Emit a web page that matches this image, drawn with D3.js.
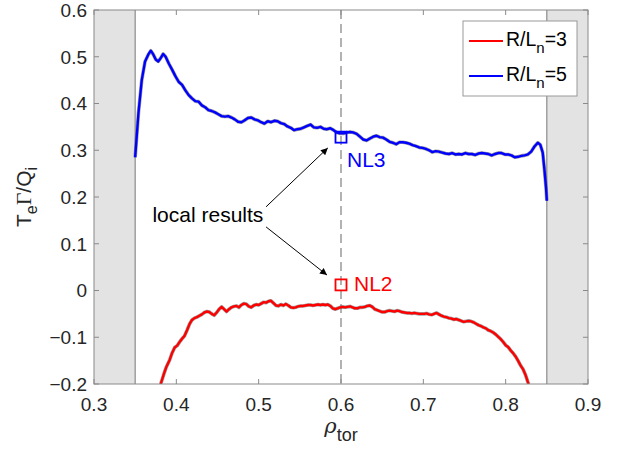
<!DOCTYPE html>
<html><head><meta charset="utf-8">
<script src="https://cdn.jsdelivr.net/npm/d3@7"></script>
<style>body{margin:0;background:#fff}svg{display:block}text{font-family:"Liberation Sans",Arial,sans-serif}</style>
</head><body><svg id="c" width="620" height="453"></svg>
<script>
const xTicks = [0.3,0.4,0.5,0.6,0.7,0.8,0.9];
const yTicks = [-0.2,-0.1,0,0.1,0.2,0.3,0.4,0.5,0.6];
const seriesNames = ["R/L_n=3","R/L_n=5"];
const seriesColors = ["#ff0000","#0000ff"];
const shadedRegions = [[0.3,0.35],[0.85,0.9]];
const refLine = 0.6;
const localPoints = [{name:"NL2", rho:0.6, value:0.012, color:"#ff0000"},{name:"NL3", rho:0.6, value:0.328, color:"#0000ff"}];

const blueRho = [0.350,0.354,0.358,0.362,0.366,0.369,0.372,0.375,0.378,0.381,0.384,0.387,0.391,0.395,0.399,0.403,0.407,0.411,0.415,0.419,0.423,0.427,0.431,0.435,0.439,0.443,0.447,0.451,0.455,0.459,0.463,0.467,0.471,0.475,0.479,0.483,0.487,0.491,0.495,0.499,0.503,0.507,0.511,0.515,0.519,0.523,0.527,0.531,0.535,0.539,0.543,0.547,0.551,0.555,0.559,0.563,0.567,0.571,0.575,0.579,0.583,0.587,0.591,0.595,0.599,0.603,0.607,0.611,0.615,0.619,0.623,0.627,0.631,0.635,0.639,0.643,0.647,0.651,0.655,0.659,0.663,0.667,0.671,0.675,0.679,0.683,0.687,0.691,0.695,0.699,0.703,0.707,0.711,0.715,0.719,0.723,0.727,0.731,0.735,0.739,0.743,0.747,0.751,0.755,0.759,0.763,0.767,0.771,0.775,0.779,0.783,0.787,0.791,0.795,0.799,0.803,0.807,0.811,0.815,0.819,0.823,0.827,0.831,0.835,0.839,0.842,0.845,0.847,0.849,0.850];
const blueVal = [0.285,0.38,0.45,0.49,0.505,0.513,0.505,0.494,0.490,0.497,0.506,0.500,0.485,0.472,0.458,0.446,0.440,0.428,0.418,0.411,0.405,0.404,0.396,0.392,0.386,0.384,0.381,0.377,0.373,0.372,0.373,0.370,0.366,0.361,0.360,0.364,0.369,0.370,0.366,0.364,0.360,0.357,0.362,0.360,0.363,0.362,0.358,0.356,0.351,0.348,0.343,0.345,0.346,0.349,0.352,0.355,0.349,0.348,0.350,0.346,0.345,0.347,0.343,0.338,0.336,0.336,0.338,0.339,0.338,0.335,0.329,0.323,0.321,0.325,0.329,0.331,0.328,0.327,0.323,0.318,0.316,0.313,0.317,0.317,0.316,0.314,0.311,0.309,0.306,0.305,0.303,0.300,0.296,0.298,0.297,0.295,0.293,0.292,0.294,0.291,0.292,0.291,0.294,0.292,0.292,0.290,0.293,0.294,0.293,0.292,0.289,0.292,0.294,0.294,0.291,0.291,0.289,0.285,0.286,0.288,0.289,0.291,0.297,0.308,0.316,0.312,0.295,0.260,0.220,0.192];

const redRho = [0.381,0.385,0.388,0.392,0.395,0.398,0.401,0.404,0.407,0.410,0.413,0.416,0.419,0.422,0.425,0.428,0.431,0.434,0.437,0.440,0.443,0.446,0.449,0.452,0.455,0.458,0.461,0.464,0.467,0.470,0.473,0.476,0.479,0.482,0.485,0.488,0.491,0.494,0.497,0.500,0.503,0.506,0.509,0.512,0.515,0.518,0.521,0.524,0.527,0.530,0.533,0.536,0.539,0.542,0.545,0.548,0.551,0.554,0.557,0.560,0.563,0.566,0.569,0.572,0.575,0.578,0.581,0.584,0.587,0.590,0.593,0.596,0.599,0.602,0.605,0.608,0.611,0.614,0.617,0.620,0.623,0.626,0.629,0.632,0.635,0.638,0.641,0.644,0.647,0.650,0.653,0.656,0.659,0.662,0.665,0.668,0.671,0.674,0.677,0.680,0.683,0.686,0.689,0.692,0.695,0.698,0.701,0.704,0.707,0.710,0.713,0.716,0.719,0.722,0.725,0.728,0.731,0.734,0.737,0.740,0.743,0.746,0.749,0.752,0.755,0.758,0.761,0.764,0.767,0.770,0.773,0.776,0.779,0.782,0.785,0.788,0.791,0.794,0.797,0.800,0.803,0.806,0.809,0.812,0.815,0.818,0.821,0.824,0.827,0.828];
const redVal = [-0.200,-0.178,-0.163,-0.148,-0.133,-0.122,-0.118,-0.110,-0.103,-0.097,-0.085,-0.072,-0.063,-0.059,-0.057,-0.054,-0.051,-0.047,-0.045,-0.046,-0.050,-0.053,-0.047,-0.040,-0.035,-0.040,-0.045,-0.040,-0.036,-0.034,-0.033,-0.036,-0.031,-0.028,-0.029,-0.034,-0.036,-0.032,-0.030,-0.031,-0.028,-0.025,-0.026,-0.023,-0.022,-0.027,-0.032,-0.033,-0.030,-0.032,-0.029,-0.032,-0.036,-0.037,-0.036,-0.034,-0.033,-0.033,-0.032,-0.031,-0.031,-0.032,-0.031,-0.030,-0.031,-0.030,-0.031,-0.030,-0.033,-0.038,-0.040,-0.038,-0.036,-0.035,-0.036,-0.035,-0.034,-0.036,-0.038,-0.038,-0.036,-0.036,-0.035,-0.033,-0.032,-0.035,-0.040,-0.042,-0.044,-0.046,-0.046,-0.044,-0.043,-0.044,-0.045,-0.043,-0.044,-0.046,-0.047,-0.048,-0.048,-0.049,-0.048,-0.049,-0.050,-0.050,-0.050,-0.049,-0.051,-0.052,-0.050,-0.048,-0.051,-0.054,-0.056,-0.057,-0.059,-0.060,-0.062,-0.061,-0.063,-0.065,-0.067,-0.066,-0.065,-0.066,-0.068,-0.071,-0.074,-0.076,-0.079,-0.081,-0.085,-0.087,-0.090,-0.094,-0.099,-0.104,-0.110,-0.117,-0.121,-0.128,-0.134,-0.141,-0.150,-0.160,-0.168,-0.180,-0.196,-0.200];

const annotationText = "local results";
const annotationPos = {rho:0.371, value:0.147};
const arrows = [
  {from:[0.509,0.179], to:[0.584,0.305]},
  {from:[0.509,0.136], to:[0.583,0.033]}
];

const W=620,H=453, m={l:94,t:10,r:32,b:69};
const svg=d3.select("#c");
const x=d3.scaleLinear().domain([0.3,0.9]).range([m.l,W-m.r]);
const y=d3.scaleLinear().domain([-0.2,0.6]).range([H-m.b,m.t]);
const axisCol="#8a8a8a";
const FS=19;

svg.append("defs").html('<clipPath id="clip"><rect x="'+m.l+'" y="'+m.t+'" width="'+(W-m.l-m.r)+'" height="'+(H-m.t-m.b)+'"/></clipPath>'+
 '<marker id="ah" viewBox="0 0 10 10" refX="10" refY="5" markerWidth="10" markerHeight="7" markerUnits="userSpaceOnUse" orient="auto"><path d="M0,0L10,5L0,10z" fill="#000"/></marker>');

shadedRegions.forEach(r=>{
  svg.append("rect").attr("x",x(r[0])).attr("y",y(0.6)).attr("width",x(r[1])-x(r[0])).attr("height",y(-0.2)-y(0.6)).attr("fill","#e3e3e3");
});
[0.35,0.85].forEach(v=>svg.append("line").attr("x1",x(v)).attr("x2",x(v)).attr("y1",y(0.6)).attr("y2",y(-0.2)).attr("stroke","#777").attr("stroke-width",1));

svg.append("line").attr("x1",x(refLine)).attr("x2",x(refLine)).attr("y1",y(0.6)).attr("y2",y(-0.2))
 .attr("stroke","#999").attr("stroke-width",1.5).attr("stroke-dasharray","9,5");

const g=svg.append("g").attr("clip-path","url(#clip)");
const line=d3.line().x(d=>x(d[0])).y(d=>y(d[1]));
const red=redRho.map((r,i)=>[r,redVal[i]]);
const blue=blueRho.map((r,i)=>[r,blueVal[i]]);
[[red,seriesColors[0]],[blue,seriesColors[1]]].forEach(([d,c])=>{
  g.append("path").datum(d).attr("d",line).attr("fill","none").attr("stroke","#555").attr("stroke-opacity",0.55).attr("stroke-width",3.6).attr("stroke-linejoin","round");
  g.append("path").datum(d).attr("d",line).attr("fill","none").attr("stroke",c).attr("stroke-width",2.4).attr("stroke-linejoin","round");
});

localPoints.forEach(p=>{
  svg.append("rect").attr("x",x(p.rho)-5.5).attr("y",y(p.value)-5.5).attr("width",11).attr("height",11)
   .attr("fill","none").attr("stroke",p.color).attr("stroke-width",1.8);
  const isTop=p.name==="NL3";
  svg.append("text").attr("x",x(p.rho)+(isTop?6:13)).attr("y",y(p.value)+(isTop?29.5:6.5)).attr("fill",p.color).attr("font-size",21).text(p.name);
});

svg.append("text").attr("x",x(annotationPos.rho)).attr("y",y(annotationPos.value)).attr("font-size",21).attr("fill","#000").text(annotationText);
arrows.forEach(a=>{
  svg.append("line").attr("x1",x(a.from[0])).attr("y1",y(a.from[1])).attr("x2",x(a.to[0])).attr("y2",y(a.to[1]))
   .attr("stroke","#000").attr("stroke-width",1).attr("marker-end","url(#ah)");
});

svg.append("rect").attr("x",m.l).attr("y",m.t).attr("width",W-m.l-m.r).attr("height",H-m.t-m.b).attr("fill","none").attr("stroke",axisCol).attr("stroke-width",1);
const tl=5;
const ax=svg.append("g");
xTicks.forEach(t=>{
  ax.append("line").attr("x1",x(t)).attr("x2",x(t)).attr("y1",y(-0.2)).attr("y2",y(-0.2)-tl).attr("stroke",axisCol);
  ax.append("line").attr("x1",x(t)).attr("x2",x(t)).attr("y1",y(0.6)).attr("y2",y(0.6)+tl).attr("stroke",axisCol);
  ax.append("text").attr("x",x(t)).attr("y",y(-0.2)+26.5).attr("text-anchor","middle").attr("font-size",FS).attr("fill","#262626").text(d3.format(".1f")(t));
});
yTicks.forEach(t=>{
  ax.append("line").attr("x1",x(0.3)).attr("x2",x(0.3)+tl).attr("y1",y(t)).attr("y2",y(t)).attr("stroke",axisCol);
  ax.append("line").attr("x1",x(0.9)).attr("x2",x(0.9)-tl).attr("y1",y(t)).attr("y2",y(t)).attr("stroke",axisCol);
  ax.append("text").attr("x",x(0.3)-7).attr("y",y(t)+6.8).attr("text-anchor","end").attr("font-size",FS).attr("fill","#262626").text(t===0?"0":d3.format(".1f")(t));
});

const xl=svg.append("text").attr("x",x(0.6)).attr("y",433).attr("text-anchor","middle").attr("fill","#262626");
xl.append("tspan").attr("font-size",21).attr("font-family","DejaVu Serif").attr("font-style","italic").text("ρ");
xl.append("tspan").attr("font-size",18).attr("dy",8).text("tor");

const yl=svg.append("text").attr("transform","translate(31,"+((m.t+H-m.b)/2)+") rotate(-90)").attr("text-anchor","middle").attr("fill","#262626").attr("font-size",21);
yl.append("tspan").text("T");
yl.append("tspan").attr("font-size",16).attr("dy",6).text("e");
yl.append("tspan").attr("dy",-6).attr("font-family","Liberation Serif").attr("font-size",22).text("Γ");
yl.append("tspan").text("/Q");
yl.append("tspan").attr("font-size",16).attr("dy",6).text("i");

const lg=svg.append("g");
lg.append("rect").attr("x",463).attr("y",21).attr("width",114).attr("height",75).attr("fill","#fff").attr("stroke","#999").attr("stroke-width",1);
seriesNames.forEach((n,i)=>{
  const yy=41+i*35;
  lg.append("line").attr("x1",469).attr("x2",503).attr("y1",yy).attr("y2",yy).attr("stroke",seriesColors[i]).attr("stroke-width",2.2);
  const parts=n.split("_");
  const t=lg.append("text").attr("x",506).attr("y",yy+5).attr("font-size",19.5).attr("fill","#000");
  t.append("tspan").text(parts[0]);
  t.append("tspan").attr("font-size",15).attr("dy",7).text(parts[1][0]);
  t.append("tspan").attr("dy",-7).text(parts[1].slice(1));
});
</script></body></html>
